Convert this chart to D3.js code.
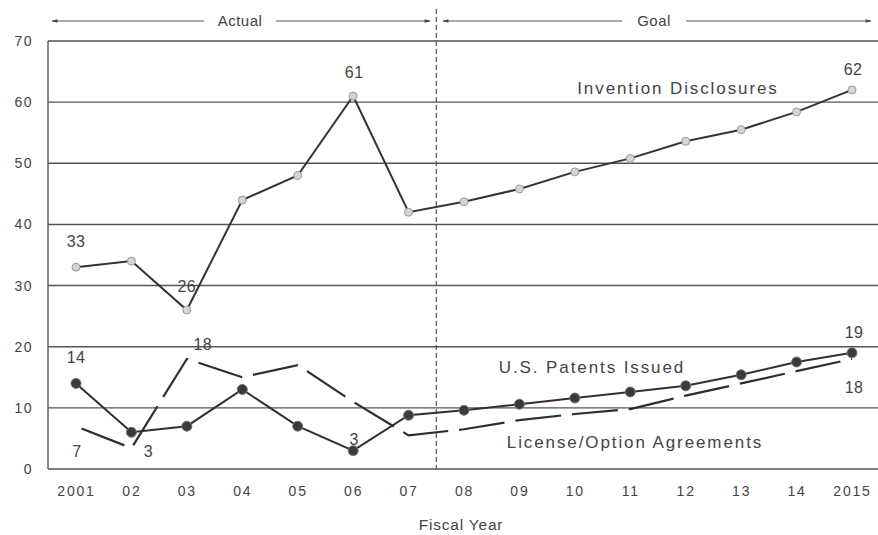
<!DOCTYPE html>
<html>
<head>
<meta charset="utf-8">
<script src="https://cdn.jsdelivr.net/npm/d3@7"></script>
<style>
  html, body { margin: 0; padding: 0; background: #fff; }
  svg text { font-family: "Liberation Sans", Arial, sans-serif; fill: #444; }
</style>
</head>
<body>
<svg id="chart" width="878" height="535"></svg>
<script>
// Fiscal years on the x axis
const years = ["2001", "02", "03", "04", "05", "06", "07", "08", "09", "10", "11", "12", "13", "14", "2015"];
const yTicks = [0, 10, 20, 30, 40, 50, 60, 70];

// Series values per fiscal year (2001–07 actual, 08–2015 goal)
const inventionDisclosures = [33, 34, 26, 44, 48, 61, 42, 43.7, 45.8, 48.6, 50.8, 53.6, 55.5, 58.4, 62];
const patentsIssued        = [14, 6, 7, 13, 7, 3, 8.8, 9.6, 10.6, 11.6, 12.6, 13.6, 15.4, 17.5, 19];
const licenseAgreements    = [7, 3.4, 18, 15, 17, 11, 5.5, 6.5, 8, 9, 9.8, 12, 14, 16, 18];

// Value labels: [series, year index, text, dx, dy]
const valueLabels = [
  ["inv", 0, "33", 0, -20],
  ["inv", 2, "26", 0, -18],
  ["inv", 5, "61", 1, -18],
  ["inv", 14, "62", 1, -15],
  ["pat", 0, "14", 0, -20],
  ["pat", 5, "3", 1, -6],
  ["pat", 14, "19", 2, -15],
  ["lic", 0, "7", 1, 31],
  ["lic", 1, "3", 17, 9],
  ["lic", 2, "18", 16, -9],
  ["lic", 14, "18", 2, 34]
];

const seriesNames = {
  inv: "Invention Disclosures",
  pat: "U.S. Patents Issued",
  lic: "License/Option Agreements"
};

const svg = d3.select("#chart");
const plotLeft = 48, plotRight = 878, plotTop = 41, plotBottom = 469;

const x = d3.scalePoint().domain(years).range([76, 852]);
const y = d3.scaleLinear().domain([0, 70]).range([plotBottom, plotTop]);

// Horizontal gridlines
svg.append("g").selectAll("line").data(yTicks).join("line")
  .attr("x1", plotLeft).attr("x2", plotRight)
  .attr("y1", d => y(d)).attr("y2", d => y(d))
  .attr("stroke", "#555").attr("stroke-width", 1.4);

// Left axis line
svg.append("line")
  .attr("x1", plotLeft).attr("x2", plotLeft).attr("y1", plotTop).attr("y2", plotBottom)
  .attr("stroke", "#555").attr("stroke-width", 1.4);

// Y axis labels
const yAxis = d3.axisLeft(y).tickValues(yTicks).tickSize(0).tickPadding(15);
const yg = svg.append("g").attr("transform", `translate(${plotLeft},0)`).call(yAxis);
yg.select(".domain").remove();
yg.selectAll("text").style("font-size", "14px").style("letter-spacing", "1.5px")
  .style("font-family", "Liberation Sans, Arial, sans-serif").attr("fill", "#555");

// X axis labels
const xAxis = d3.axisBottom(x).tickSize(0).tickPadding(17);
const xg = svg.append("g").attr("transform", `translate(0,${plotBottom})`).call(xAxis);
xg.select(".domain").remove();
xg.selectAll("text").style("font-size", "14px").style("letter-spacing", "1.8px")
  .style("font-family", "Liberation Sans, Arial, sans-serif").attr("fill", "#555");

svg.append("text").attr("x", 461).attr("y", 530).attr("text-anchor", "middle")
  .style("font-size", "15.5px").style("letter-spacing", "0.8px").text("Fiscal Year");

// Divider between actual and goal years
const divX = (x("07") + x("08")) / 2;
svg.append("line")
  .attr("x1", divX).attr("x2", divX).attr("y1", 9).attr("y2", plotBottom)
  .attr("stroke", "#555").attr("stroke-width", 1.2).attr("stroke-dasharray", "5,3");

// Period headers with arrows
const defs = svg.append("defs");
defs.append("marker").attr("id", "arrow").attr("viewBox", "0 0 10 10")
  .attr("refX", 9).attr("refY", 5).attr("markerWidth", 11).attr("markerHeight", 6)
  .attr("orient", "auto-start-reverse")
  .append("path").attr("d", "M0,2 L10,5 L0,8 Z").attr("fill", "#444");

function header(label, x0, x1, tx, halfGap) {
  svg.append("line").attr("x1", x0).attr("x2", tx - halfGap).attr("y1", 21).attr("y2", 21)
    .attr("stroke", "#555").attr("stroke-width", 1).attr("marker-start", "url(#arrow)");
  svg.append("line").attr("x1", tx + halfGap).attr("x2", x1).attr("y1", 21).attr("y2", 21)
    .attr("stroke", "#555").attr("stroke-width", 1).attr("marker-end", "url(#arrow)");
  svg.append("text").attr("x", tx).attr("y", 26).attr("text-anchor", "middle")
    .style("font-size", "15px").style("letter-spacing", "0.5px").text(label);
}
header("Actual", 52, 430, 240, 36);
header("Goal", 443, 871, 654, 32);

// Series lines
const line = d3.line().x((d, i) => x(years[i])).y(d => y(d));

svg.append("path").datum(licenseAgreements).attr("d", line)
  .attr("fill", "none").attr("stroke", "#2e2e2e").attr("stroke-width", 2.2)
  .attr("stroke-dasharray", "46,11").attr("stroke-dashoffset", -6);

svg.append("path").datum(patentsIssued).attr("d", line)
  .attr("fill", "none").attr("stroke", "#3b2a2f").attr("stroke-width", 2);

svg.append("path").datum(inventionDisclosures).attr("d", line)
  .attr("fill", "none").attr("stroke", "#333").attr("stroke-width", 2);

// Point markers
svg.append("g").selectAll("circle").data(inventionDisclosures).join("circle")
  .attr("cx", (d, i) => x(years[i])).attr("cy", d => y(d)).attr("r", 4)
  .attr("fill", "#d4d4d4").attr("stroke", "#9a9a9a").attr("stroke-width", 1);

svg.append("g").selectAll("circle").data(patentsIssued).join("circle")
  .attr("cx", (d, i) => x(years[i])).attr("cy", d => y(d)).attr("r", 5)
  .attr("fill", "#3a3a3a").attr("stroke", "#777").attr("stroke-width", 1);

// Value labels
const seriesData = { inv: inventionDisclosures, pat: patentsIssued, lic: licenseAgreements };
svg.append("g").selectAll("text").data(valueLabels).join("text")
  .attr("x", d => x(years[d[1]]) + d[3])
  .attr("y", d => y(seriesData[d[0]][d[1]]) + d[4])
  .attr("text-anchor", "middle")
  .style("font-size", "16px").style("letter-spacing", "0.4px")
  .text(d => d[2]);

// Series names
const nameSpots = [["inv", 678, 94], ["pat", 592, 373], ["lic", 635, 448]];
svg.append("g").selectAll("text").data(nameSpots).join("text")
  .attr("x", d => d[1]).attr("y", d => d[2]).attr("text-anchor", "middle")
  .style("font-size", "17px").style("letter-spacing", "1.9px")
  .attr("fill", "#333")
  .text(d => seriesNames[d[0]]);
</script>
</body>
</html>
